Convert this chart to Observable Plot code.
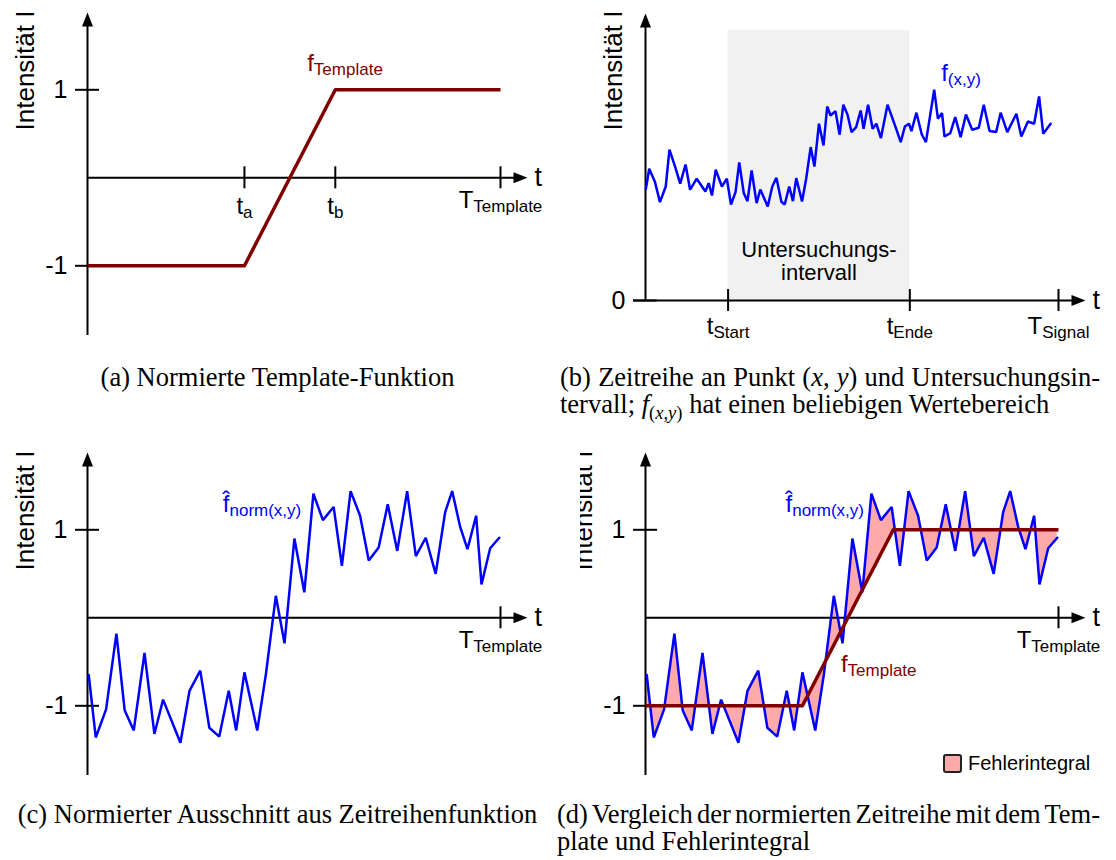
<!DOCTYPE html>
<html lang="de">
<head>
<meta charset="utf-8">
<title>Template-Vergleich einer Zeitreihe</title>
<script src="https://cdn.jsdelivr.net/npm/d3@7"></script>
<script src="https://cdn.jsdelivr.net/npm/@observablehq/plot@0.6"></script>
<style>
  html, body { margin: 0; padding: 0; background: #fff; }
  #figure { position: relative; width: 1116px; height: 860px; overflow: hidden; background: #fff; }
  .panel { position: absolute; width: 558px; height: 345px; }
  .panel svg { overflow: visible; display: block; }
  /* the subfigure (d) is cropped just left of its axis title */
  #panelD { clip-path: inset(-20px -60px -20px 22px); }
  .caption { position: absolute; font-family: "Liberation Serif", "Times New Roman", serif; font-size: 26.5px; line-height: 27px; color: #000; white-space: nowrap; }
  .caption .line { display: inline-block; white-space: nowrap; }
  .caption sub { font-size: 0.7em; vertical-align: -0.3em; line-height: 0; }
  #legend { position: absolute; left: 943px; top: 752px; display: flex; align-items: center; font-family: "Liberation Sans", Arial, sans-serif; font-size: 20px; color: #000; }
  #legend .swatch { width: 15px; height: 15px; border: 2px solid #222; border-radius: 3px; margin-right: 6px; }
</style>
</head>
<body>
<div id="figure">
  <div class="panel" id="panelA" style="left:0;top:0"></div>
  <div class="panel" id="panelB" style="left:558px;top:0"></div>
  <div class="panel" id="panelC" style="left:0;top:440px"></div>
  <div class="panel" id="panelD" style="left:558px;top:440px"></div>

  <div class="caption" style="left:0;width:555px;top:364px;text-align:center">(a) Normierte Template-Funktion</div>
  <div class="caption" style="left:560px;top:364px"><span class="line just" data-w="540">(b) Zeitreihe an Punkt (<i>x</i>, <i>y</i>) und Untersuchungsin-</span></div>
  <div class="caption" style="left:560px;top:391px"><span class="line">tervall; <i>f</i><sub>(<i>x</i>,<i>y</i>)</sub> hat einen beliebigen Wertebereich</span></div>
  <div class="caption" style="left:0;width:555px;top:801px;text-align:center">(c) Normierter Ausschnitt aus Zeitreihenfunktion</div>
  <div class="caption" style="left:557px;top:801px"><span class="line just" data-w="543">(d) Vergleich der normierten Zeitreihe mit dem Tem-</span></div>
  <div class="caption" style="left:557px;top:828px"><span class="line">plate und Fehlerintegral</span></div>

  <div id="legend"></div>
</div>
<script>
// ---------------- data ----------------
// (a) normalized template: breakpoints of the piecewise linear step
const templateTime = [0, 38, 60, 100];
const templateIntensity = [-1, -1, 1, 1];
const templateTickTimes = [38, 60, 100];
const templateTickLabels = ["t|a", "t|b", "T|Template"];

// (b) raw time series at pixel (x, y), arbitrary intensity units
const signalTime = [0.1, 0.9, 2.3, 3.5, 4.9, 5.8, 7.2, 8.4, 9.7, 10.8,
  12.4, 14.5, 15.3, 16.1, 17.0, 18.5, 19.7, 20.7, 21.8, 22.7,
  23.8, 24.7, 25.7, 26.9, 27.8, 29.6, 30.7, 31.7, 32.9, 33.7,
  34.8, 35.7, 36.5, 37.9, 38.9, 40.0, 40.9, 42.0, 43.1, 44.0,
  44.8, 46.0, 47.0, 47.9, 48.9, 49.9, 51.0, 52.1, 52.8, 53.9,
  55.0, 55.9, 57.0, 58.6, 60.6, 61.8, 62.8, 63.8, 64.4, 65.6,
  66.9, 67.9, 69.9, 70.8, 71.8, 72.4, 73.8, 75.0, 76.3, 77.6,
  79.1, 80.7, 81.9, 83.3, 84.9, 86.0, 87.6, 89.8, 91.0, 92.6,
  94.1, 95.3, 96.3, 98.1];
const signalIntensity = [55.9, 65.9, 59.2, 49.2, 57, 75.4, 66.7, 58.4, 68, 55.4,
  60.9, 54.5, 58.7, 52.5, 65.4, 57, 60.9, 48, 54.2, 69,
  53.7, 49.7, 65, 48.7, 55.5, 47, 57, 61.4, 49.4, 48,
  57, 49.7, 61.2, 49.5, 60.9, 76.7, 67, 88.4, 77.5, 97,
  92.5, 94.7, 82.9, 97.9, 93, 84.2, 86.7, 95, 85.9, 97.9,
  85.9, 88.4, 81.2, 97.9, 86.4, 79.2, 87, 88.4, 84.7, 93.9,
  83, 79.2, 105.4, 90.9, 93.7, 82, 83.7, 91.7, 81.7, 93,
  85.4, 86.4, 97.9, 84.7, 84.2, 93.9, 84.2, 93.4, 82, 89.5,
  88.4, 102, 83.4, 88.4];
const intervalStart = 20;
const intervalEnd = 64;
const signalTickTimes = [20, 64, 100];
const signalTickLabels = ["t|Start", "t|Ende", "T|Signal"];
const intervalLabel = "Untersuchungs-\nintervall";

// (c)/(d) normalized excerpt of the time series
const normTime = [0.3, 2.0, 4.5, 7.0, 9.0, 11.2, 13.8, 16.2, 18.3, 22.5,
  24.7, 27.3, 29.5, 31.9, 34.2, 36.0, 38.0, 41.1, 43.2, 45.6,
  47.7, 50.1, 52.5, 54.7, 57.0, 59.6, 61.6, 63.7, 66.0, 68.1,
  70.5, 72.7, 75.0, 77.4, 79.5, 81.9, 84.3, 86.6, 88.3, 90.2,
  92.0, 94.1, 95.4, 97.5, 99.7];
const normIntensity = [-0.65, -1.36, -1.04, -0.18, -1.05, -1.28, -0.40, -1.32, -0.93, -1.42,
  -0.83, -0.60, -1.25, -1.35, -0.83, -1.28, -0.62, -1.28, -0.64, 0.25,
  -0.29, 0.90, 0.29, 1.41, 1.11, 1.26, 0.59, 1.44, 1.16, 0.65,
  0.80, 1.29, 0.76, 1.44, 0.70, 0.91, 0.50, 1.20, 1.44, 1.04,
  0.78, 1.16, 0.38, 0.79, 0.91];
const normTickTimes = [100];
const normTickLabels = ["T|Template"];

const normYTicks = [-1, 1];
const normYTickLabels = ["-1", "1"];
const rawYTicks = [0];
const rawYTickLabels = ["0"];
const errorLabel = "Fehlerintegral";

// ---------------- styling ----------------
const NS = "http://www.w3.org/2000/svg";
const FONT = '"Liberation Sans", Arial, Helvetica, sans-serif';
const BLUE = "#0000ff";
const MAROON = "#800000";
const ERROR_FILL = "#ffaaaa";
const GREY = "#f1f1f1";
const SUB_SIZE = 17;
const X_RANGE = [87, 500];   // pixel span of t = 0 … T inside each panel
const X_TIP_PX = 527;        // tip of the t-axis arrow
const NORM_Y = {domain: [-1, 1], range: [265.3, 89.3], top: 12, bottom: 335};
const RAW_Y = {domain: [0, 100], range: [300, 100], top: 13, bottom: 300};

// filled arrow head; the tip sits at the end of the vector
const arrowHead = {
  draw(ctx, l) {
    ctx.moveTo(0, -l);
    ctx.lineTo(5.5, 0);
    ctx.lineTo(-5.5, 0);
    ctx.closePath();
  }
};

function addSubscripts(svg) {
  for (const el of svg.querySelectorAll("text")) {
    if (el.querySelector("tspan")) continue;
    const s = el.textContent;
    const k = s.indexOf("|");
    if (k < 0) continue;
    el.textContent = "";
    const base = document.createElementNS(NS, "tspan");
    base.textContent = s.slice(0, k);
    const sub = document.createElementNS(NS, "tspan");
    sub.textContent = s.slice(k + 1);
    sub.setAttribute("font-size", SUB_SIZE);
    sub.setAttribute("dy", "4");
    el.append(base, sub);
  }
}

function buildPanel(cfg) {
  const xs = d3.scaleLinear([0, 100], X_RANGE);
  const ys = d3.scaleLinear(cfg.y.domain, cfg.y.range);
  const vx = (px) => xs.invert(px);
  const vy = (px) => ys.invert(px);
  const axisPx = xs(0);
  const zeroPx = ys(0);
  const text = {fill: "#000", fontFamily: FONT};

  const marks = [
    ...(cfg.under ? cfg.under(vx, vy) : []),
    // intensity axis with arrow
    Plot.ruleX([0], {y1: vy(cfg.y.bottom), y2: vy(cfg.y.top + 6), stroke: "#000", strokeWidth: 2}),
    Plot.vector([0], {x: 0, y: vy(cfg.y.top), length: 14, anchor: "end", shape: arrowHead, fill: "#000", stroke: "none"}),
    // time axis with arrow
    Plot.ruleY([0], {x1: vx(axisPx - (cfg.zeroTick ? 12 : 0)), x2: vx(X_TIP_PX - 6), stroke: "#000", strokeWidth: 2}),
    Plot.vector([0], {x: vx(X_TIP_PX), y: 0, length: 14, rotate: 90, anchor: "end", shape: arrowHead, fill: "#000", stroke: "none"}),
    Plot.text(["t"], {x: vx(X_TIP_PX), y: 0, dx: 7, textAnchor: "start", lineAnchor: "middle", fontSize: 27, ...text}),
    // intensity ticks
    Plot.ruleY(cfg.yTicks, {x1: vx(axisPx - 12), x2: vx(axisPx + 12), stroke: "#000", strokeWidth: 2}),
    Plot.text(cfg.yTicks, {x: 0, y: (d) => d, text: (d, i) => cfg.yTickLabels[i], dx: -20, textAnchor: "end", lineAnchor: "middle", fontSize: 25, ...text}),
    // time ticks
    Plot.ruleX(cfg.xTicks, {y1: vy(zeroPx + 11), y2: vy(zeroPx - 11), stroke: "#000", strokeWidth: 2}),
    ...cfg.xTicks.map((t, i) => Plot.text([t], {
      x: (d) => d, y: 0, text: () => cfg.xTickLabels[i],
      dy: cfg.xTickDy(cfg.xTickLabels[i]), textAnchor: "middle", lineAnchor: "bottom", fontSize: 24, ...text
    })),
    // axis title
    Plot.text(["Intensität I"], {x: vx(cfg.yLabelPx), y: vy(70), rotate: -90, textAnchor: "middle", lineAnchor: "bottom", fontSize: 26, ...text}),
    ...cfg.marks(vx, vy)
  ];

  const svg = Plot.plot({
    width: 558,
    height: 345,
    margin: 0,
    style: {fontFamily: FONT, background: "transparent", overflow: "visible"},
    x: {domain: [0, 100], range: X_RANGE, axis: null},
    y: {domain: cfg.y.domain, range: cfg.y.range, axis: null},
    marks
  });
  addSubscripts(svg);
  document.getElementById(cfg.id).append(svg);
}

const lowerDy = (label) => (label[0] === "T" ? 30 : 36);

// (a) template
buildPanel({
  id: "panelA", y: NORM_Y, yLabelPx: 33,
  yTicks: normYTicks, yTickLabels: normYTickLabels,
  xTicks: templateTickTimes, xTickLabels: templateTickLabels, xTickDy: lowerDy,
  marks: (vx, vy) => [
    Plot.lineY(templateIntensity, {x: templateTime, stroke: MAROON, strokeWidth: 3.5, strokeLinecap: "butt"}),
    Plot.text(["f|Template"], {x: vx(306.7), y: vy(70), textAnchor: "start", lineAnchor: "bottom", fontSize: 24, fill: MAROON})
  ]
});

// (b) raw time series and investigation interval
buildPanel({
  id: "panelB", y: RAW_Y, yLabelPx: 63, zeroTick: true,
  yTicks: rawYTicks, yTickLabels: rawYTickLabels,
  xTicks: signalTickTimes, xTickLabels: signalTickLabels, xTickDy: () => 33,
  under: (vx, vy) => [
    Plot.rect([0], {x1: intervalStart, x2: intervalEnd, y1: 0, y2: vy(30), fill: GREY})
  ],
  marks: (vx, vy) => [
    Plot.lineY(signalIntensity, {x: signalTime, stroke: BLUE, strokeWidth: 2.5, strokeLinejoin: "miter"}),
    Plot.text([intervalLabel], {x: (intervalStart + intervalEnd) / 2, y: vy(261), textAnchor: "middle", lineAnchor: "middle", lineHeight: 1.04, fontSize: 22, fill: "#000"}),
    Plot.text(["f|(x,y)"], {x: vx(382.7), y: vy(80), textAnchor: "start", lineAnchor: "bottom", fontSize: 24, fill: BLUE})
  ]
});

// (c) normalized excerpt
buildPanel({
  id: "panelC", y: NORM_Y, yLabelPx: 33,
  yTicks: normYTicks, yTickLabels: normYTickLabels,
  xTicks: normTickTimes, xTickLabels: normTickLabels, xTickDy: lowerDy,
  marks: (vx, vy) => [
    Plot.lineY(normIntensity, {x: normTime, stroke: BLUE, strokeWidth: 2.5, strokeLinejoin: "miter"}),
    Plot.text(["f\u0302|norm(x,y)"], {x: vx(222.3), y: vy(71.7), textAnchor: "start", lineAnchor: "bottom", fontSize: 24, fill: BLUE})
  ]
});

// (d) normalized excerpt against the template; the area between both is the error integral
const templateAt = d3.scaleLinear(templateTime, templateIntensity);
const signalAt = d3.scaleLinear(normTime, normIntensity).clamp(true);
const tFirst = normTime[0], tLast = normTime[normTime.length - 1];
const errorBand = Array.from(new Set([...normTime, ...templateTime.filter((t) => t > tFirst && t < tLast)]))
  .sort((a, b) => a - b)
  .map((t) => ({t, template: templateAt(t), signal: signalAt(t)}));

buildPanel({
  id: "panelD", y: NORM_Y, yLabelPx: 33,
  yTicks: normYTicks, yTickLabels: normYTickLabels,
  xTicks: normTickTimes, xTickLabels: normTickLabels, xTickDy: lowerDy,
  under: () => [
    Plot.areaY(errorBand, {x: "t", y1: "template", y2: "signal", fill: ERROR_FILL})
  ],
  marks: (vx, vy) => [
    Plot.lineY(normIntensity, {x: normTime, stroke: BLUE, strokeWidth: 2.5, strokeLinejoin: "miter"}),
    Plot.lineY(templateIntensity, {x: templateTime, stroke: MAROON, strokeWidth: 3.5, strokeLinecap: "butt"}),
    Plot.text(["f\u0302|norm(x,y)"], {x: vx(227), y: vy(71.7), textAnchor: "start", lineAnchor: "bottom", fontSize: 24, fill: BLUE}),
    Plot.text(["f|Template"], {x: vx(282.4), y: vy(231), textAnchor: "start", lineAnchor: "bottom", fontSize: 24, fill: MAROON})
  ]
});

// legend for the error area
const legend = document.getElementById("legend");
const swatch = document.createElement("span");
swatch.className = "swatch";
swatch.style.background = ERROR_FILL;
legend.append(swatch, document.createTextNode(errorLabel));

// justify the hyphenated first caption lines to the column width
for (const el of document.querySelectorAll(".just")) {
  const target = +el.dataset.w;
  const w = el.getBoundingClientRect().width;
  const gaps = (el.textContent.match(/ /g) || []).length;
  if (gaps) el.style.wordSpacing = `${(target - w) / gaps}px`;
}
</script>
</body>
</html>
